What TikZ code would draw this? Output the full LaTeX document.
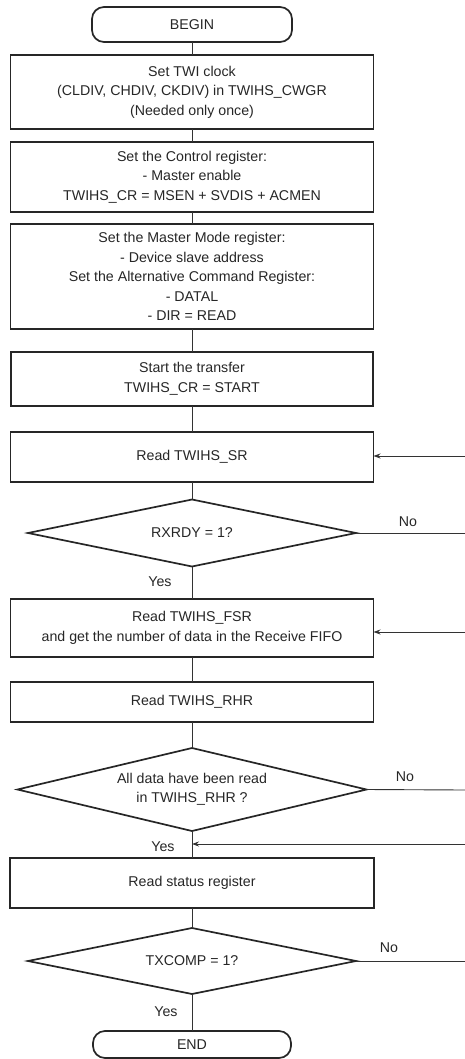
\documentclass[tikz,border=0pt]{standalone}
\usepackage{fontspec}
\setmainfont{Liberation Sans}
\usetikzlibrary{shapes.geometric,arrows.meta}
\begin{document}
\begin{tikzpicture}[x=1pt,y=-1pt,
  every node/.style={font=\fontsize{14.2}{19.5}\selectfont, text=black!85},
  stepbox/.style={draw=black!85, line width=1.7pt, rectangle, inner sep=0pt, outer sep=0pt, align=center},
  term/.style={draw=black!85, line width=1.7pt, rectangle, rounded corners=12pt, inner sep=0pt, outer sep=0pt},
  decide/.style={draw=black!85, line width=1.7pt, diamond, inner sep=0pt, outer sep=0pt, align=center},
  conn/.style={draw=black!80, line width=0.9pt},
  arr/.style={conn, -{Stealth[length=7pt,width=5pt]}},
  lbl/.style={inner sep=0pt}
]
\useasboundingbox (0,0) rectangle (465,1059);

\node[term, minimum width=200pt, minimum height=35pt] (begin) at (192,24.5) {BEGIN};
\node[stepbox, minimum width=363pt, minimum height=74pt] (b1) at (192,92) {Set TWI clock\\(CLDIV, CHDIV, CKDIV) in TWIHS\_CWGR\\(Needed only once)};
\node[stepbox, minimum width=363pt, minimum height=70pt] (b2) at (192,177) {Set the Control register:\\- Master enable\\TWIHS\_CR = MSEN + SVDIS + ACMEN};
\node[stepbox, minimum width=363pt, minimum height=105pt] (b3) at (192,276.5) {Set the Master Mode register:\\- Device slave address\\Set the Alternative Command Register:\\- DATAL\\- DIR = READ};
\node[stepbox, minimum width=362pt, minimum height=54pt] (b4) at (192,379) {Start the transfer\\TWIHS\_CR = START};
\node[stepbox, minimum width=363pt, minimum height=50pt] (b5) at (192,457) {Read TWIHS\_SR};
\node[decide, shape aspect=4.9, minimum width=328pt, minimum height=67pt] (d1) at (192,533) {RXRDY = 1?};
\node[stepbox, minimum width=363pt, minimum height=58pt] (b6) at (192,628) {Read TWIHS\_FSR\\and get the number of data in the Receive FIFO};
\node[stepbox, minimum width=363pt, minimum height=40pt] (b7) at (192,702) {Read TWIHS\_RHR};
\node[decide, shape aspect=4.2, minimum width=349pt, minimum height=83pt] (d2) at (192,789.5) {All data have been read\\in TWIHS\_RHR ?};
\node[stepbox, minimum width=364pt, minimum height=50pt] (b8) at (192,883) {Read status register};
\node[decide, shape aspect=4.9, minimum width=328pt, minimum height=66pt] (d3) at (192,961) {TXCOMP = 1?};
\node[term, minimum width=198pt, minimum height=27pt] (end) at (192,1044.5) {END};

\draw[conn] (begin) -- (b1);
\draw[conn] (b1) -- (b2);
\draw[conn] (b2) -- (b3);
\draw[conn] (b3) -- (b4);
\draw[conn] (b4) -- (b5);
\draw[conn] (b5) -- (d1);
\draw[conn] (d1) -- (b6);
\draw[conn] (b6) -- (b7);
\draw[conn] (b7) -- (d2);
\draw[conn] (d2) -- (b8);
\draw[conn] (b8) -- (d3);
\draw[conn] (d3) -- (end);
\node[lbl] (yes1) at (160,582) {Yes};
\node[lbl] (yes3) at (166,1012) {Yes};

% No branches (leave to the right edge)
\coordinate (n1) at (465,533);
\coordinate (n2) at (465,790);
\coordinate (n3) at (465,961);
\draw[conn] (d1.east) -- (n1);
\draw[conn] (d2.east) -- (n2);
\draw[conn] (d3.east) -- (n3);
\node[lbl] (no1) at (408,522) {No};
\node[lbl] (no2) at (405,777) {No};
\node[lbl] (no3) at (389,948) {No};

% Loop-back arrows from the right edge
\coordinate (r1) at (465,456);
\coordinate (r2) at (465,632);
\coordinate (r3) at (465,844);
\draw[arr] (r1) -- (b5.east |- r1);
\draw[arr] (r2) -- (b6.east |- r2);
\coordinate (j3) at (192,844);
\draw[arr] (r3) -- (j3);
\node[lbl] (yes2) at (163,847) {Yes};
\end{tikzpicture}
\end{document}
